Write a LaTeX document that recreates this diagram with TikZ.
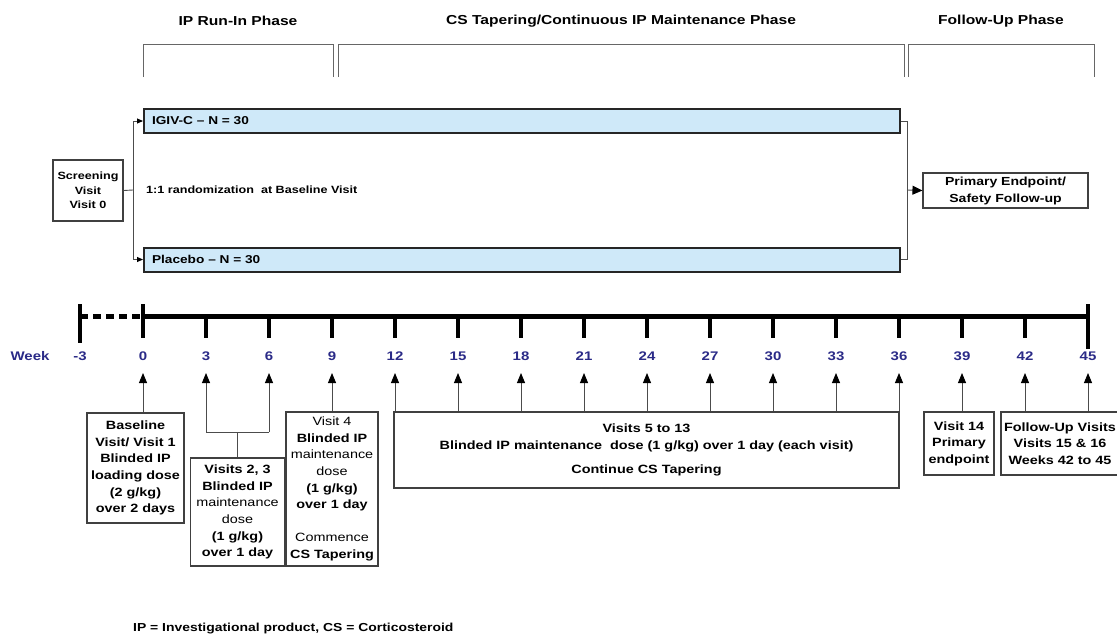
\documentclass[tikz,border=0pt]{standalone}
\usepackage{fontspec}
\setmainfont[FakeStretch=1.2]{Liberation Sans}
\usetikzlibrary{arrows.meta}
\definecolor{barblue}{RGB}{207,233,249}
\definecolor{weekblue}{RGB}{42,42,135}
\begin{document}
\begin{tikzpicture}[x=1pt,y=-1pt,
  txt/.style={font=\bfseries\fontsize{12}{16.6}\selectfont},
  boxst/.style={draw=black!75, line width=1.1pt, align=center, inner sep=0pt, txt},
  bar/.style={draw=black!85, line width=2pt, fill=barblue, minimum height=24pt,
     text width=740pt, inner xsep=8pt, inner ysep=0pt, align=left,
     font=\bfseries\fontsize{11.4}{13}\selectfont},
  conn/.style={draw=black!70, line width=0.9pt},
  arr/.style={conn, -{Triangle[length=10pt,width=8pt,color=black]}},
  sarr/.style={conn, -{Triangle[length=6pt,width=5pt,color=black]}},
  barr/.style={conn, -{Triangle[length=10pt,width=9pt,color=black]}},
  wk/.style={text=weekblue, font=\bfseries\fontsize{12.5}{14}\selectfont, inner sep=0pt},
  phase/.style={font=\bfseries\fontsize{13}{15}\selectfont, inner sep=0pt},
  brk/.style={draw=black!60, line width=0.9pt},
  axisln/.style={line width=5pt},
  tickst/.style={line width=4pt}]
\useasboundingbox (0,0) rectangle (1117,637);

% phase titles and brackets
\node[phase] (ph1) at (238,21) {IP Run-In Phase};
\node[phase] (ph2) at (621,21) {CS Tapering/Continuous IP Maintenance Phase};
\node[phase] (ph3) at (1001,21) {Follow-Up Phase};
\draw[brk] (143,77) -- (143,44) -- (333,44) -- (333,77);
\draw[brk] (338,77) -- (338,44) -- (904,44) -- (904,77);
\draw[brk] (908,77) -- (908,44) -- (1094,44) -- (1094,77);

% randomisation part
\node[boxst, minimum width=70pt, minimum height=61pt,
      font=\bfseries\fontsize{10.5}{14.5}\selectfont] (scr) at (88,190.5) {Screening\\Visit\\Visit 0};
\node[bar] (igiv) at (522,121) {IGIV-C -- N = 30};
\node[bar] (plac) at (522,259.5) {Placebo -- N = 30};
\node[anchor=west, inner sep=0pt, font=\bfseries\fontsize{10.5}{13}\selectfont] (rand) at (146,190) {1:1 randomization\ \ at Baseline Visit};
\coordinate (lsplit) at (133,190);
\draw[conn] (scr.east) -- (lsplit);
\draw[sarr] (lsplit) |- (igiv.west);
\draw[sarr] (lsplit) |- (plac.west);
\node[boxst, minimum width=165pt, minimum height=35pt, font=\bfseries\fontsize{11.7}{17}\selectfont] (pe) at (1005.5,190.5) {Primary Endpoint/\\Safety Follow-up};
\coordinate (rjoin) at (907,190);
\draw[conn] (igiv.east) -| (rjoin);
\draw[conn] (plac.east) -| (rjoin);
\draw[barr] (rjoin) -- (pe.west);

% timeline
\node[wk] (wklbl) at (30,356) {Week};
\draw[axisln, dash pattern=on 8pt off 5pt] (80,316) -- (143,316);
\draw[axisln] (143,316) -- (1088,316);
\draw[tickst] (80,304) -- (80,343);
\draw[tickst] (143,304) -- (143,338);
\draw[tickst] (1088,304) -- (1088,349);
\foreach \w in {3,6,...,42} {
  \draw[tickst] ({143+21*\w},316) -- ({143+21*\w},338);
}
\foreach \w in {-3,0,3,...,45} {
  \node[wk] (w\w) at ({143+21*\w},356) {\w};
}
\foreach \w in {0,3,...,45} {
  \coordinate (t\w) at ({143+21*\w},373);
}

% visit boxes
\node[boxst, minimum width=97pt, minimum height=110pt] (bl) at (135.5,468)
  {Baseline\\Visit/ Visit 1\\Blinded IP\\loading dose\\(2 g/kg)\\over 2 days};
\node[boxst, minimum width=94pt, minimum height=108pt] (v23) at (237.5,512)
  {Visits 2, 3\\Blinded IP\\\mdseries maintenance\\\mdseries dose\\(1 g/kg)\\over 1 day};
\node[boxst, minimum width=92pt, minimum height=154pt] (v4) at (332,489)
  {\mdseries Visit 4\\Blinded IP\\\mdseries maintenance\\\mdseries dose\\(1 g/kg)\\over 1 day\\[16.6pt]\mdseries Commence\\CS Tapering};
\node[boxst, minimum width=505pt, minimum height=76pt] (v513) at (646.5,450)
  {Visits 5 to 13\\Blinded IP maintenance\ \ dose (1 g/kg) over 1 day (each visit)\\[8pt]Continue CS Tapering};
\node[boxst, minimum width=70pt, minimum height=63pt] (v14) at (959,443.5)
  {Visit 14\\Primary\\endpoint};
\node[boxst, minimum width=118pt, minimum height=63pt] (fu) at (1060,443.5)
  {Follow-Up Visits\\Visits 15 \& 16\\Weeks 42 to 45};

% arrows
\draw[arr] (bl.north -| t0) -- (t0);
\coordinate (j3) at (206,432);
\coordinate (j6) at (269,432);
\draw[arr] (j3) -- (t3);
\draw[arr] (j6) -- (t6);
\draw[conn] (j3) -- (j6);
\draw[conn] (v23.north) -- (v23.north |- j3);
\draw[arr] (v4.north -| t9) -- (t9);
\foreach \w in {12,15,...,36} {
  \draw[arr] (v513.north -| t\w) -- (t\w);
}
\draw[arr] (v14.north -| t39) -- (t39);
\draw[arr] (fu.north -| t42) -- (t42);
\draw[arr] (fu.north -| t45) -- (t45);

% footnote
\node[anchor=west, inner sep=0pt, font=\bfseries\fontsize{11.6}{13}\selectfont] (foot) at (133,629)
  {IP = Investigational product, CS = Corticosteroid};
\end{tikzpicture}
\end{document}
